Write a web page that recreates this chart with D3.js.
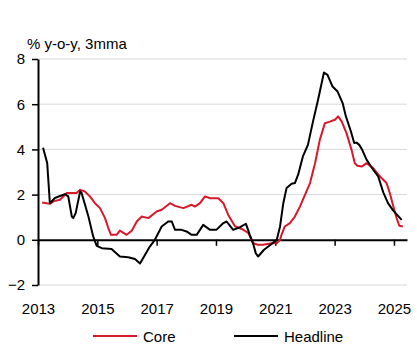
<!DOCTYPE html>
<html>
<head>
<meta charset="utf-8">
<script src="https://cdn.jsdelivr.net/npm/d3@7"></script>
<style>
  body { margin: 0; background: #fff; }
  svg text { font-family: "Liberation Sans", Arial, sans-serif; fill: #000; }
</style>
</head>
<body>
<div id="chart"></div>
<script>
// core and headline, % y-o-y 3mma, [decimal year, value]
const core = [
  [2013.14, 1.65], [2013.29, 1.62], [2013.40, 1.59], [2013.52, 1.70], [2013.74, 1.77],
  [2013.97, 2.07], [2014.14, 2.07], [2014.30, 2.07], [2014.42, 2.21], [2014.58, 2.14],
  [2014.75, 1.92], [2014.92, 1.62], [2015.09, 1.40], [2015.26, 0.96], [2015.37, 0.52],
  [2015.46, 0.22], [2015.65, 0.22], [2015.76, 0.41], [2015.99, 0.22], [2016.16, 0.40],
  [2016.33, 0.81], [2016.50, 1.03], [2016.72, 0.96], [2017.00, 1.25], [2017.17, 1.33],
  [2017.45, 1.62], [2017.62, 1.50], [2017.90, 1.40], [2018.18, 1.55], [2018.29, 1.47],
  [2018.46, 1.62], [2018.63, 1.92], [2018.80, 1.84], [2019.08, 1.84], [2019.25, 1.62],
  [2019.41, 1.11], [2019.64, 0.60], [2019.87, 0.48], [2020.09, 0.30], [2020.26, -0.15],
  [2020.41, -0.22], [2020.59, -0.22], [2020.88, -0.15], [2021.05, -0.15], [2021.16, 0.00],
  [2021.21, 0.22], [2021.32, 0.59], [2021.49, 0.74], [2021.66, 1.03], [2021.83, 1.47],
  [2022.00, 1.99], [2022.17, 2.51], [2022.34, 3.39], [2022.50, 4.42], [2022.67, 5.16],
  [2022.84, 5.23], [2023.01, 5.31], [2023.12, 5.46], [2023.24, 5.23], [2023.40, 4.72],
  [2023.57, 3.98], [2023.68, 3.39], [2023.77, 3.28], [2023.91, 3.24], [2024.08, 3.39],
  [2024.30, 3.17], [2024.53, 2.80], [2024.75, 2.51], [2024.86, 2.07], [2024.98, 1.47],
  [2025.09, 0.96], [2025.18, 0.62], [2025.30, 0.59]
];

const headline = [
  [2013.17, 4.07], [2013.31, 3.40], [2013.40, 1.62], [2013.57, 1.85], [2013.91, 2.02],
  [2014.02, 1.92], [2014.14, 1.03], [2014.19, 0.96], [2014.27, 1.18], [2014.42, 2.14],
  [2014.47, 2.07], [2014.70, 1.03], [2014.86, 0.15], [2014.98, -0.27], [2015.15, -0.37],
  [2015.48, -0.41], [2015.76, -0.74], [2016.04, -0.77], [2016.27, -0.85], [2016.44, -1.05],
  [2016.77, -0.30], [2016.94, 0.00], [2017.17, 0.59], [2017.39, 0.81], [2017.51, 0.81],
  [2017.62, 0.44], [2017.84, 0.44], [2018.01, 0.37], [2018.18, 0.22], [2018.35, 0.22],
  [2018.57, 0.66], [2018.80, 0.44], [2019.02, 0.45], [2019.25, 0.74], [2019.36, 0.81],
  [2019.58, 0.44], [2019.80, 0.55], [2020.01, 0.71], [2020.14, 0.22], [2020.26, -0.20],
  [2020.34, -0.59], [2020.42, -0.74], [2020.62, -0.44], [2020.84, -0.22], [2021.05, 0.00],
  [2021.16, 0.59], [2021.27, 1.62], [2021.38, 2.29], [2021.55, 2.48], [2021.66, 2.51],
  [2021.77, 2.88], [2021.93, 3.69], [2022.10, 4.20], [2022.27, 5.23], [2022.44, 6.19],
  [2022.64, 7.40], [2022.76, 7.30], [2022.93, 6.78], [2023.10, 6.56], [2023.27, 6.05],
  [2023.38, 5.46], [2023.55, 4.79], [2023.66, 4.28], [2023.74, 4.30], [2023.83, 4.20],
  [2023.93, 3.98], [2024.08, 3.54], [2024.30, 3.10], [2024.47, 2.80], [2024.64, 2.10],
  [2024.80, 1.62], [2024.97, 1.30], [2025.26, 0.88]
];

const yTicks = [-2, 0, 2, 4, 6, 8];
const xTicks = [2013, 2015, 2017, 2019, 2021, 2023, 2025];

const width = 417, height = 353;

let svg = d3.select('#chart').append('svg')
  .attr('width', width)
  .attr('height', height);

let x = d3.scaleLinear().domain([2013, 2025.44]).range([38, 407]);
let y = d3.scaleLinear().domain([-2, 8]).range([285, 59]);

// gridlines
svg.append('g')
  .selectAll('line')
  .data(yTicks.filter(d => d !== 0))
  .enter()
  .append('line')
  .attr('x1', x.range()[0])
  .attr('x2', x.range()[1])
  .attr('y1', d => y(d))
  .attr('y2', d => y(d))
  .attr('stroke', '#d9d9d9')
  .attr('stroke-width', 1);

// y axis
let yAxis = svg.append('g')
  .attr('transform', `translate(${x.range()[0]},0)`)
  .call(d3.axisLeft(y).tickValues(yTicks).tickSize(6).tickPadding(7).tickSizeOuter(0));
yAxis.select('.domain').attr('stroke', '#000').attr('stroke-width', 2);
yAxis.selectAll('.tick line').attr('stroke-width', 1.5);
yAxis.selectAll('text').style('font-size', '15px');

// zero line with year ticks
let xAxis = svg.append('g')
  .attr('transform', `translate(0,${y(0)})`)
  .call(d3.axisBottom(x).tickValues(xTicks).tickSize(6).tickSizeOuter(0).tickFormat(''));
xAxis.select('.domain').attr('stroke', '#000').attr('stroke-width', 2);
xAxis.selectAll('.tick line').attr('stroke-width', 1.5);

// year labels
let xLabels = svg.append('g')
  .attr('transform', 'translate(0,303)')
  .call(d3.axisBottom(x).tickValues(xTicks).tickSize(0).tickPadding(0).tickFormat(d3.format('d')));
xLabels.select('.domain').remove();
xLabels.selectAll('text').style('font-size', '15px');

let line = d3.line()
  .x(d => x(d[0]))
  .y(d => y(d[1]));

svg.append('path')
  .datum(core)
  .attr('fill', 'none')
  .attr('stroke', '#d7192b')
  .attr('stroke-width', 2)
  .attr('stroke-linejoin', 'round')
  .attr('d', line);

svg.append('path')
  .datum(headline)
  .attr('fill', 'none')
  .attr('stroke', '#000')
  .attr('stroke-width', 2)
  .attr('stroke-linejoin', 'round')
  .attr('d', line);

// title
svg.append('text')
  .attr('x', 27)
  .attr('y', 49)
  .style('font-size', '15px')
  .text('% y-o-y, 3mma');

// legend
const legend = [
  { name: 'Core', color: '#d7192b', x: 93 },
  { name: 'Headline', color: '#000', x: 234 }
];

let lg = svg.append('g')
  .selectAll('g')
  .data(legend)
  .enter()
  .append('g')
  .attr('transform', d => `translate(${d.x},336)`);

lg.append('line')
  .attr('x1', 0)
  .attr('x2', 44)
  .attr('stroke', d => d.color)
  .attr('stroke-width', 2);

lg.append('text')
  .attr('x', 50)
  .attr('y', 6)
  .style('font-size', '15px')
  .text(d => d.name);
</script>
</body>
</html>
